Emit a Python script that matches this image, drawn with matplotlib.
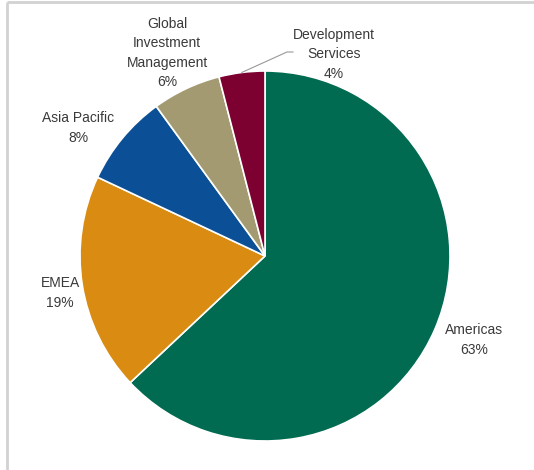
import numpy as np
import matplotlib.pyplot as plt

# segment shares (%), clockwise from 12 o'clock
segments = ['Americas', 'EMEA', 'Asia Pacific', 'Global\nInvestment\nManagement', 'Development\nServices']
shares = [63, 19, 8, 6, 4]
colors = ['#006b51', '#d98b12', '#0b5096', '#a39a72', '#7c0030']

W, H = 534, 470
fig = plt.figure(figsize=(W / 100, H / 100), dpi=100)
ax = fig.add_axes([0, 0, 1, 1])

cx, cy, r = 265, H - 256, 185
wedges, _ = ax.pie(shares, colors=colors, startangle=90, counterclock=False,
                   center=(cx, cy), radius=r,
                   wedgeprops=dict(edgecolor='white', linewidth=1.2))

ax.set_xlim(0, W)
ax.set_ylim(0, H)
ax.set_aspect('equal')
ax.axis('off')

# label placement (image pixels, y from top)
label_pos = [(474, 340), (60, 293), (78, 128), (167, 53), (334, 54)]
for name, val, (x, y) in zip(segments, shares, label_pos):
    ax.text(x, H - y, f'{name}\n{val}%', ha='center', va='center',
            fontsize=10, color='#3a3a3a', family='Liberation Sans', linespacing=1.5)

# leader line for the small Development Services slice
w = wedges[4]
mid = np.deg2rad((w.theta1 + w.theta2) / 2)
x0, y0 = cx + r * np.cos(mid), cy + r * np.sin(mid)
ax.plot([x0, 287, 293], [y0, H - 52, H - 52], color='#999999', lw=0.8)

# frame remnants along top and left
ax.plot([7, W], [H - 2, H - 2], color='#d2d2d2', lw=2, solid_capstyle='butt')
ax.plot([7, 7], [H - 2, 0], color='#d2d2d2', lw=2, solid_capstyle='butt')

fig.savefig('out.png', dpi=100)
